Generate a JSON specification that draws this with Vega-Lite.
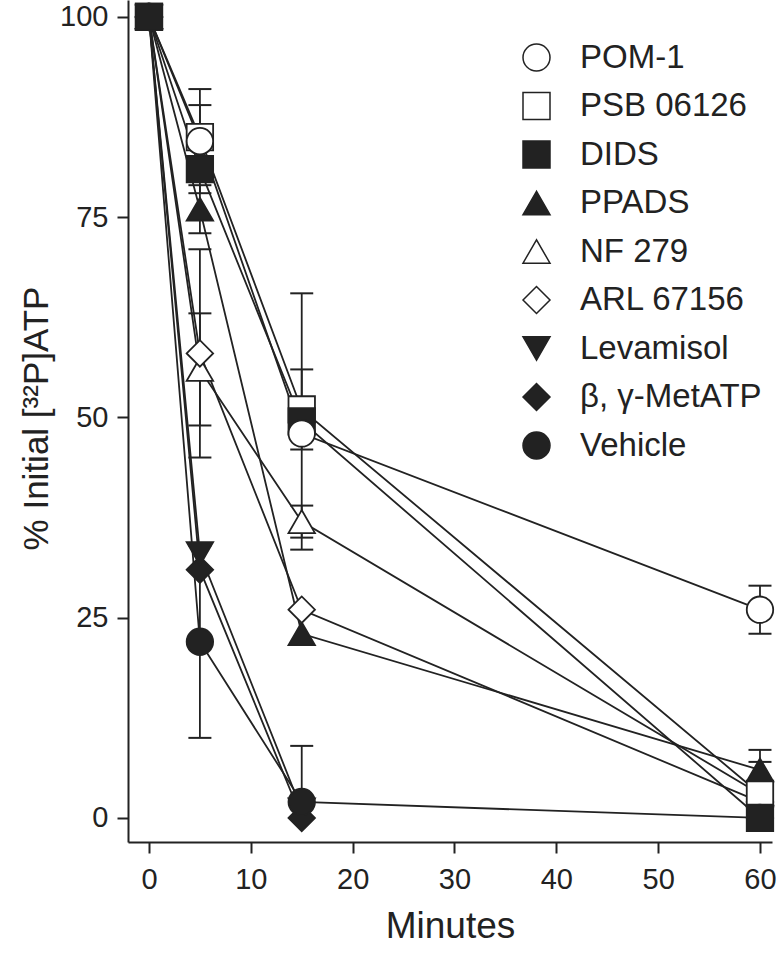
{
  "$schema": "https://vega.github.io/schema/vega-lite/v6.json",
  "width": 644,
  "height": 842,
  "autosize": {"type": "none"},
  "padding": {"left": 128, "top": 0, "right": 5, "bottom": 111},
  "background": "white",
  "config": {
    "font": "Liberation Sans",
    "view": {"stroke": null},
    "axis": {
      "grid": false,
      "domainColor": "#222",
      "domainWidth": 2,
      "tickColor": "#222",
      "tickWidth": 2,
      "tickSize": 11,
      "labelFontSize": 29,
      "labelColor": "#222",
      "labelPadding": 9,
      "titleColor": "#222",
      "titleFontWeight": "normal"
    },
    "legend": {
      "labelFontSize": 33,
      "labelColor": "#222",
      "labelFont": "Liberation Sans",
      "labelLimit": 400,
      "padding": 0
    }
  },
  "datasets": {
    "main": [
      {"series": "POM-1", "t": 0, "v": 100},
      {"series": "PSB 06126", "t": 0, "v": 100},
      {"series": "PPADS", "t": 0, "v": 100},
      {"series": "NF 279", "t": 0, "v": 100},
      {"series": "ARL 67156", "t": 0, "v": 100},
      {"series": "Levamisol", "t": 0, "v": 100},
      {"series": "β, γ-MetATP", "t": 0, "v": 100},
      {"series": "Vehicle", "t": 0, "v": 100},
      {"series": "DIDS", "t": 0, "v": 100},
      {"series": "Vehicle", "t": 5, "v": 22},
      {"series": "β, γ-MetATP", "t": 5, "v": 31},
      {"series": "Levamisol", "t": 5, "v": 33},
      {"series": "NF 279", "t": 5, "v": 56},
      {"series": "ARL 67156", "t": 5, "v": 58},
      {"series": "PPADS", "t": 5, "v": 76},
      {"series": "DIDS", "t": 5, "v": 81},
      {"series": "PSB 06126", "t": 5, "v": 85},
      {"series": "POM-1", "t": 5, "v": 84.5},
      {"series": "Levamisol", "t": 15, "v": 1},
      {"series": "β, γ-MetATP", "t": 15, "v": 0},
      {"series": "Vehicle", "t": 15, "v": 2},
      {"series": "PPADS", "t": 15, "v": 23},
      {"series": "ARL 67156", "t": 15, "v": 26},
      {"series": "NF 279", "t": 15, "v": 37},
      {"series": "PSB 06126", "t": 15, "v": 51},
      {"series": "DIDS", "t": 15, "v": 49.5},
      {"series": "POM-1", "t": 15, "v": 48},
      {"series": "POM-1", "t": 60, "v": 26},
      {"series": "ARL 67156", "t": 60, "v": 2},
      {"series": "NF 279", "t": 60, "v": 3},
      {"series": "PSB 06126", "t": 60, "v": 3},
      {"series": "PPADS", "t": 60, "v": 6},
      {"series": "Vehicle", "t": 60, "v": 0},
      {"series": "DIDS", "t": 60, "v": 0}
    ],
    "err": [
      {"series": "POM-1", "t": 5, "lo": 78, "hi": 91},
      {"series": "PSB 06126", "t": 5, "lo": 81, "hi": 89},
      {"series": "PPADS", "t": 5, "lo": 73, "hi": 79},
      {"series": "NF 279", "t": 5, "lo": 49, "hi": 63},
      {"series": "ARL 67156", "t": 5, "lo": 45, "hi": 71},
      {"series": "Vehicle", "t": 5, "lo": 10, "hi": 34},
      {"series": "DIDS", "t": 15, "lo": 33.5, "hi": 65.5},
      {"series": "PSB 06126", "t": 15, "lo": 46, "hi": 56},
      {"series": "NF 279", "t": 15, "lo": 35, "hi": 39},
      {"series": "Vehicle", "t": 15, "lo": 2, "hi": 9},
      {"series": "POM-1", "t": 60, "lo": 23, "hi": 29},
      {"series": "PPADS", "t": 60, "lo": 3.5, "hi": 8.5},
      {"series": "PSB 06126", "t": 60, "lo": -1, "hi": 7}
    ]
  },
  "layer": [
    {
      "data": {"name": "err"},
      "mark": {"type": "rule", "color": "#222", "strokeWidth": 1.8},
      "encoding": {
        "x": {"field": "t", "type": "quantitative"},
        "y": {"field": "lo", "type": "quantitative"},
        "y2": {"field": "hi"}
      }
    },
    {
      "data": {"name": "err"},
      "mark": {"type": "tick", "orient": "horizontal", "color": "#222", "size": 23, "thickness": 2, "opacity": 1},
      "encoding": {
        "x": {"field": "t", "type": "quantitative"},
        "y": {"field": "lo", "type": "quantitative"}
      }
    },
    {
      "data": {"name": "err"},
      "mark": {"type": "tick", "orient": "horizontal", "color": "#222", "size": 23, "thickness": 2, "opacity": 1},
      "encoding": {
        "x": {"field": "t", "type": "quantitative"},
        "y": {"field": "hi", "type": "quantitative"}
      }
    },
    {
      "data": {"name": "main"},
      "mark": {"type": "line", "color": "#222", "strokeWidth": 1.8},
      "encoding": {
        "x": {"field": "t", "type": "quantitative"},
        "y": {"field": "v", "type": "quantitative"},
        "detail": {"field": "series"}
      }
    },
    {
      "data": {"name": "main"},
      "mark": {"type": "point", "filled": true, "stroke": "#222", "strokeWidth": 1.8, "size": 700, "opacity": 1},
      "encoding": {
        "x": {
          "field": "t",
          "type": "quantitative",
          "scale": {"domain": [-2.06, 61.18], "nice": false, "zero": false},
          "axis": {
            "values": [0, 10, 20, 30, 40, 50, 60],
            "labelPadding": 12,
            "title": "Minutes",
            "titleFontSize": 37,
            "titlePadding": 14
          }
        },
        "y": {
          "field": "v",
          "type": "quantitative",
          "scale": {"domain": [-3, 102.12], "nice": false, "zero": false},
          "axis": {
            "values": [0, 25, 50, 75, 100],
            "title": "% Initial [³²P]ATP",
            "titleFontSize": 35,
            "titleAngle": -90,
            "titleX": -81,
            "titleY": 418,
            "titleAlign": "center",
            "titleBaseline": "alphabetic"
          }
        },
        "shape": {
          "field": "series",
          "type": "nominal",
          "scale": {
            "domain": ["POM-1", "PSB 06126", "DIDS", "PPADS", "NF 279", "ARL 67156", "Levamisol", "β, γ-MetATP", "Vehicle"],
            "range": ["circle", "square", "square", "triangle-up", "triangle-up", "diamond", "triangle-down", "diamond", "circle"]
          },
          "legend": {
            "title": null,
            "orient": "none",
            "legendX": 392,
            "legendY": 41,
            "symbolSize": 729,
            "labelOffset": 27,
            "rowPadding": 14.5,
            "labelLimit": 400,
            "encode": {"symbols": {"update": {"stroke": {"value": "#222"}, "strokeWidth": {"value": 1.8}}}}
          }
        },
        "fill": {
          "field": "series",
          "type": "nominal",
          "scale": {
            "domain": ["POM-1", "PSB 06126", "DIDS", "PPADS", "NF 279", "ARL 67156", "Levamisol", "β, γ-MetATP", "Vehicle"],
            "range": ["white", "white", "#222", "#222", "white", "white", "#222", "#222", "#222"]
          },
          "legend": {
            "title": null,
            "orient": "none",
            "legendX": 392,
            "legendY": 41,
            "symbolSize": 729,
            "labelOffset": 27,
            "rowPadding": 14.5,
            "labelLimit": 400,
            "encode": {"symbols": {"update": {"stroke": {"value": "#222"}, "strokeWidth": {"value": 1.8}}}}
          }
        }
      }
    }
  ]
}
